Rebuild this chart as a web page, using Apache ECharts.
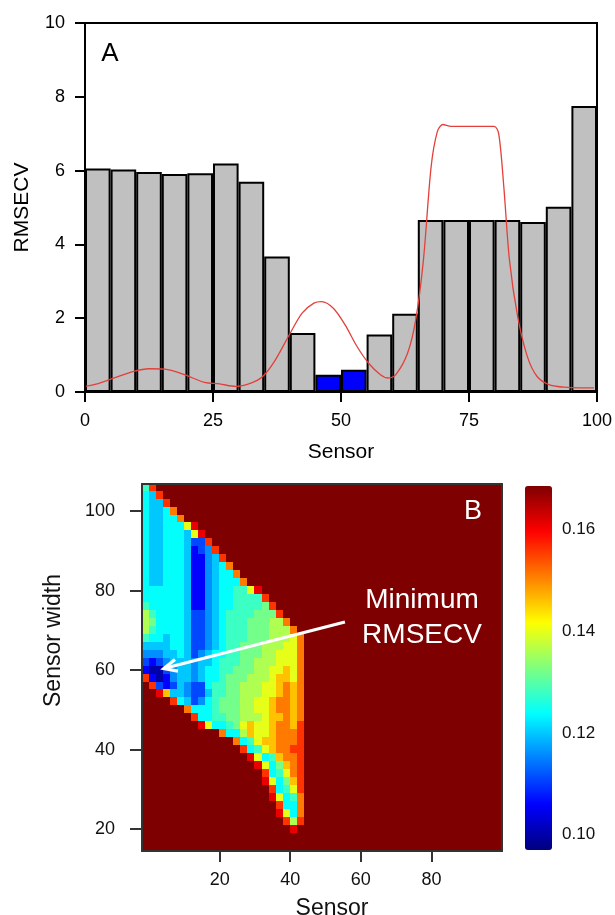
<!DOCTYPE html>
<html>
<head>
<meta charset="utf-8">
<script src="https://cdn.jsdelivr.net/npm/echarts@6/dist/echarts.min.js"></script>
<style>
  html, body { margin: 0; padding: 0; background: #fff; }
  #chart { width: 615px; height: 915px; }
</style>
</head>
<body>
<div id="chart"></div>
<script>
// ---- panel A: RMSECV of each 5-sensor window ----
const windowCenters = [2.5, 7.5, 12.5, 17.5, 22.5, 27.5, 32.5, 37.5, 42.5, 47.5,
                       52.5, 57.5, 62.5, 67.5, 72.5, 77.5, 82.5, 87.5, 92.5, 97.5]
const windowRmsecv = [6.06, 6.03, 5.96, 5.91, 5.93, 6.19, 5.70, 3.67, 1.60, 0.47,
                      0.60, 1.56, 2.12, 4.66, 4.66, 4.66, 4.66, 4.61, 5.02, 7.75]
const selectedCenters = [47.5, 52.5]

// red profile drawn over the bars
const profileX = [0, 2.6, 5.7, 9.5, 12.5, 15.6, 19.4, 23.3, 26.3, 29.4, 32.4, 34.7, 37, 40.1,
                  42.4, 44.7, 46.2, 48.5, 50.8, 53.1, 55.4, 57.7, 59.2, 60.7, 63, 64.6, 66.1,
                  67.6, 68.8, 69.9, 71.5, 75.3, 79.9, 80.8, 81.8, 82.9, 84.5, 86.4, 88.3, 90.6,
                  93.6, 96.7, 99.4]
const profileY = [0.15, 0.23, 0.38, 0.56, 0.63, 0.62, 0.47, 0.26, 0.22, 0.15, 0.24, 0.42, 0.83, 1.6,
                  2.14, 2.41, 2.45, 2.27, 1.82, 1.24, 0.78, 0.47, 0.38, 0.47, 1.05, 1.96, 3.58,
                  6.1, 7.05, 7.25, 7.2, 7.2, 7.2, 7.0, 5.56, 3.58, 2.05, 0.96, 0.42, 0.2,
                  0.13, 0.11, 0.11]

// ---- panel B: RMSECV map over (first sensor, sensor width) ----
const sensorStarts = [-1, 1, 3, 5, 7, 9, 11, 13, 15, 17, 19, 21, 23, 25, 27, 29, 31, 33, 35, 37,
                      39, 41, 43, 45, 47, 49, 51, 53, 55, 57, 59, 61, 63, 65, 67, 69, 71, 73, 75,
                      77, 79, 81, 83, 85, 87, 89, 91, 93, 95, 97, 99]
const sensorWidths = [106, 104, 102, 100, 98, 96, 94, 92, 90, 88, 86, 84, 82, 80, 78, 76, 74, 72,
                      70, 68, 66, 64, 62, 60, 58, 56, 54, 52, 50, 48, 46, 44, 42, 40, 38, 36, 34,
                      32, 30, 28, 26, 24, 22, 20, 18, 16, 14]
// one character per cell, looked up in levelKeys -> levelValues
const levelKeys = '0123456789abcd#'
const levelValues = [0.100, 0.106, 0.111, 0.116, 0.120, 0.124, 0.128, 0.132, 0.136, 0.140,
                     0.146, 0.151, 0.156, 0.161, 0.1685]
const rmsecvMap = [
  '6c#################################################',
  '54c################################################',
  '544c###############################################',
  '5445b##############################################',
  '54455b#############################################',
  '5445559d###########################################',
  '54455549d##########################################',
  '544555422c#########################################',
  '5445554123c########################################',
  '54455541134c#######################################',
  '544555411345b######################################',
  '5445554113455b#####################################',
  '54455541134555b####################################',
  '5555554113455669d##################################',
  '55555541134556666c#################################',
  '655555411345566667c################################',
  '8655554223456666777c###############################',
  '87555542234566677788b##############################',
  '865555422345666777888b#############################',
  '6554554223456667778889b############################',
  '4444554223456677788899b############################',
  '3334454234556677788999b############################',
  '2123444344566677888999b############################',
  '10023443455667778899a9b############################',
  'c101344345567778889aa9b############################',
  '#c21243225667788899abab############################',
  '##da443224667788899abab############################',
  '####c5423567778899abbab############################',
  '######b55567778899abbab############################',
  '#######c5566778889aabab############################',
  '########d955679a99abbac############################',
  '###########b558a99abbbc############################',
  '#############b569aabbbc############################',
  '##############c569abbcc############################',
  '###############d956abbc############################',
  '################d957abc############################',
  '#################c569bc############################',
  '#################d957ac############################',
  '##################c569c############################',
  '##################d956b############################',
  '###################c55b############################',
  '###################d95b############################',
  '####################c8c############################',
  '#####################d#############################',
  '###################################################',
  '###################################################',
  '###################################################'
]
const colorbarTicks = [0.10, 0.12, 0.14, 0.16]
const xTicksB = [20, 40, 60, 80]
const yTicksB = [20, 40, 60, 80, 100]
const arrowFrom = [55.5, 72.1]
const arrowTo = [4.2, 60.4]

const FONT = '"Liberation Sans", Arial, Helvetica, sans-serif'
const JET = ['#00007f', '#0000ff', '#007fff', '#00ffff', '#7fff7f', '#ffff00', '#ff7f00', '#ff0000', '#7f0000']
const CELL = 1 // half of the grid step of the map

const heatData = []
rmsecvMap.forEach((row, i) => {
  for (let j = 0; j < sensorStarts.length; j++) {
    const k = levelKeys.indexOf(row[j])
    if (k >= 0) heatData.push([sensorStarts[j], sensorWidths[i], levelValues[k]])
  }
})

const chart = echarts.init(document.getElementById('chart'))

const lineOnly = (color) => ({
  show: true, onZero: false, lineStyle: { color: color, width: 2 }
})

chart.setOption({
  animation: false,
  textStyle: { fontFamily: FONT },
  grid: [
    { left: 85, top: 23, width: 512, height: 369, outerBoundsMode: 'none',
      show: true, borderColor: '#000', borderWidth: 2 },
    { left: 142, top: 484, width: 360, height: 367, outerBoundsMode: 'none' },
    { left: 525, top: 486, width: 27, height: 364, outerBoundsMode: 'none' }
  ],
  xAxis: [
    {
      gridIndex: 0, type: 'value', min: 0, max: 100, interval: 25, z: 5,
      axisLine: lineOnly('#000'),
      axisTick: { length: 10, lineStyle: { color: '#000', width: 2 } },
      axisLabel: { fontSize: 18, color: '#000', margin: 20 },
      splitLine: { show: false },
      name: 'Sensor', nameLocation: 'middle', nameGap: 50,
      nameTextStyle: { fontSize: 21, color: '#000' }
    },
    {
      gridIndex: 1, type: 'value', min: -2, max: 100, z: 5,
      axisLine: lineOnly('#333'),
      axisTick: { length: 11, customValues: xTicksB, lineStyle: { color: '#333', width: 2 } },
      axisLabel: { fontSize: 18, color: '#111', margin: 20, customValues: xTicksB },
      splitLine: { show: false },
      name: 'Sensor', nameLocation: 'middle', nameGap: 46,
      nameTextStyle: { fontSize: 23, color: '#111', padding: [0, 0, 0, 20] }
    },
    {
      gridIndex: 1, type: 'value', position: 'top', min: -2, max: 100, z: 5,
      axisLine: lineOnly('#333'), axisTick: { show: false }, axisLabel: { show: false },
      splitLine: { show: false }
    },
    { gridIndex: 2, type: 'value', show: false }
  ],
  yAxis: [
    {
      gridIndex: 0, type: 'value', min: 0, max: 10, interval: 2, z: 5,
      axisLine: lineOnly('#000'),
      axisTick: { length: 10, lineStyle: { color: '#000', width: 2 } },
      axisLabel: { fontSize: 18, color: '#000', margin: 20 },
      splitLine: { show: false },
      name: 'RMSECV', nameLocation: 'middle', nameGap: 52,
      nameTextStyle: { fontSize: 21, color: '#000' }
    },
    {
      gridIndex: 1, type: 'value', min: 14.5, max: 106.8, z: 5,
      axisLine: lineOnly('#333'),
      axisTick: { length: 12, customValues: yTicksB, lineStyle: { color: '#333', width: 2 } },
      axisLabel: { fontSize: 18, color: '#111', margin: 27, customValues: yTicksB },
      splitLine: { show: false },
      name: 'Sensor width', nameLocation: 'middle', nameGap: 77,
      nameTextStyle: { fontSize: 23, color: '#111', padding: [0, 0, 0, 54] }
    },
    {
      gridIndex: 1, type: 'value', position: 'right', min: 14.5, max: 106.8, z: 5,
      axisLine: lineOnly('#333'), axisTick: { show: false }, axisLabel: { show: false },
      splitLine: { show: false }
    },
    {
      gridIndex: 2, type: 'value', position: 'right', min: 0.097, max: 0.1685,
      axisLine: { show: false }, axisTick: { show: false }, splitLine: { show: false },
      axisLabel: {
        fontSize: 17, color: '#111', margin: 10, customValues: colorbarTicks,
        formatter: (v) => v.toFixed(2)
      }
    }
  ],
  visualMap: {
    type: 'continuous', seriesIndex: 2, dimension: 2,
    min: 0.097, max: 0.1685, calculable: false, hoverLink: false,
    left: 525, top: 486, itemWidth: 27, itemHeight: 364, padding: 0,
    inRange: { color: JET }
  },
  series: [
    {
      type: 'bar', xAxisIndex: 0, yAxisIndex: 0, silent: true, z: 2,
      data: windowCenters.map((c, i) => [c, windowRmsecv[i]]),
      barWidth: '100%',
      itemStyle: {
        color: (p) => selectedCenters.includes(p.value[0]) ? '#0000ff' : '#c0c0c0',
        borderColor: '#000', borderWidth: 2
      }
    },
    {
      type: 'line', xAxisIndex: 0, yAxisIndex: 0, silent: true, z: 3,
      data: profileX.map((x, i) => [x, profileY[i]]),
      smooth: 0.3, symbol: 'none',
      lineStyle: { color: '#e3403b', width: 1.3 }
    },
    {
      type: 'custom', xAxisIndex: 1, yAxisIndex: 1, silent: true, clip: true,
      data: heatData,
      renderItem: (params, api) => {
        const x = api.value(0)
        const w = api.value(1)
        const a = api.coord([x - CELL, w + CELL])
        const b = api.coord([x + CELL, w - CELL])
        return {
          type: 'rect',
          shape: {
            x: Math.floor(a[0]), y: Math.floor(a[1]),
            width: Math.ceil(b[0]) - Math.floor(a[0]) + 1,
            height: Math.ceil(b[1]) - Math.floor(a[1]) + 1
          },
          style: { fill: api.visual('color') }
        }
      }
    }
  ]
})

// arrow pointing at the minimum, placed in map coordinates
const tail = chart.convertToPixel({ seriesIndex: 2 }, arrowFrom)
const tip = chart.convertToPixel({ seriesIndex: 2 }, arrowTo)
const len = Math.hypot(tail[0] - tip[0], tail[1] - tip[1])
const d = [(tail[0] - tip[0]) / len, (tail[1] - tip[1]) / len]
const n = [-d[1], d[0]]
const head = [
  [tip[0] + 13 * d[0] + 6 * n[0], tip[1] + 13 * d[1] + 6 * n[1]],
  tip,
  [tip[0] + 13 * d[0] - 6 * n[0], tip[1] + 13 * d[1] - 6 * n[1]]
]

chart.setOption({
  graphic: [
    { type: 'text', x: 110, y: 54, z: 20,
      style: { text: 'A', fontSize: 26, fontFamily: FONT, fill: '#000', align: 'center', verticalAlign: 'middle' } },
    { type: 'text', x: 473, y: 512, z: 20,
      style: { text: 'B', fontSize: 27, fontFamily: FONT, fill: '#fff', align: 'center', verticalAlign: 'middle' } },
    { type: 'text', x: 422, y: 618, z: 20,
      style: { text: 'Minimum\nRMSECV', fontSize: 28, lineHeight: 35, fontFamily: FONT, fill: '#fff',
               align: 'center', verticalAlign: 'middle' } },
    { type: 'polyline', z: 20, shape: { points: [tail, tip] },
      style: { stroke: '#fff', lineWidth: 3.2, fill: null } },
    { type: 'polyline', z: 20, shape: { points: head },
      style: { stroke: '#fff', lineWidth: 3.2, fill: null } }
  ]
})
</script>
</body>
</html>
